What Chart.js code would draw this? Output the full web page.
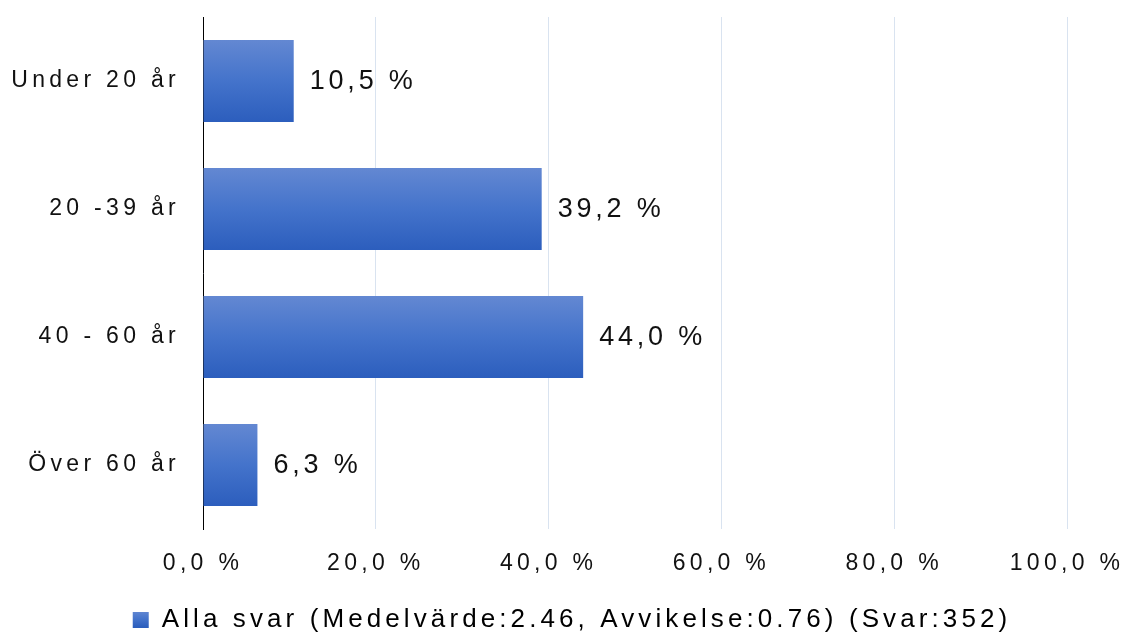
<!DOCTYPE html>
<html>
<head>
<meta charset="utf-8">
<script src="https://cdn.jsdelivr.net/npm/chart.js@4.4.1/dist/chart.umd.min.js"></script>
<style>
  body { margin: 0; background: #fff; }
  #wrap { width: 1126px; height: 634px; }
</style>
</head>
<body>
<div id="wrap"><canvas id="myChart"></canvas></div>
<script>
// data
var categories = ['Under 20 år', '20 -39 år', '40 - 60 år', 'Över 60 år'];
var values = [10.5, 39.2, 44.0, 6.3];
var xTicks = [0, 20, 40, 60, 80, 100];
var seriesLabel = 'Alla svar (Medelvärde:2.46, Avvikelse:0.76) (Svar:352)';

var FONT = "'Liberation Sans', Arial, sans-serif";
var TICK_SPACING = '4.3px';
var LABEL_SPACING = '3.8px';
var LEGEND_SPACING = '4.1px';

function pct(v) {
    return v.toFixed(1).replace('.', ',') + ' %';
}

function blueGradient(ctx, top, bottom) {
    var g = ctx.createLinearGradient(0, top, 0, bottom);
    g.addColorStop(0, '#6388d2');
    g.addColorStop(0.5, '#4473cb');
    g.addColorStop(1, '#2c5ebd');
    return g;
}

// run a drawing method with a given letter spacing (and optional shift)
function withSpacing(obj, name, sp, dx, dy) {
    if (!obj || obj['_sp_' + name]) return;
    var orig = obj[name];
    obj[name] = function () {
        var c = this.ctx;
        c.save();
        c.letterSpacing = sp;
        c.translate(dx || 0, dy || 0);
        var r = orig.apply(this, arguments);
        c.restore();
        return r;
    };
    obj['_sp_' + name] = true;
}

var spacing = {
    id: 'spacing',
    beforeLayout: function (chart) { chart.ctx.letterSpacing = LEGEND_SPACING; },
    afterLayout: function (chart) {
        withSpacing(chart.scales.x, 'drawLabels', TICK_SPACING);
        withSpacing(chart.scales.y, 'drawLabels', TICK_SPACING);
        // legend sits a bit right of centre and low in the reference
        withSpacing(chart.legend, 'draw', LEGEND_SPACING, 9, 9);
    }
};

// vertical gradient on every bar
var barGradient = {
    id: 'barGradient',
    beforeDatasetsDraw: function (chart) {
        chart.getDatasetMeta(0).data.forEach(function (bar) {
            var top = bar.y - bar.height / 2;
            bar.options.backgroundColor = blueGradient(chart.ctx, top, top + bar.height);
        });
    }
};

// value labels to the right of the bars
var valueLabels = {
    id: 'valueLabels',
    afterDatasetsDraw: function (chart) {
        var ctx = chart.ctx;
        ctx.save();
        ctx.font = '27px ' + FONT;
        ctx.letterSpacing = LABEL_SPACING;
        ctx.fillStyle = '#111';
        ctx.textAlign = 'left';
        ctx.textBaseline = 'middle';
        chart.getDatasetMeta(0).data.forEach(function (bar, i) {
            ctx.fillText(pct(values[i]), bar.x + 16, bar.y + 1);
        });
        ctx.restore();
    }
};

var ctx = document.getElementById('myChart').getContext('2d');
var chart = new Chart(ctx, {
    type: 'bar',
    data: {
        labels: categories,
        datasets: [{
            label: seriesLabel,
            data: values,
            backgroundColor: function () { return '#4473cb'; },
            barPercentage: 0.64,
            categoryPercentage: 1
        }]
    },
    plugins: [spacing, barGradient, valueLabels],
    options: {
        indexAxis: 'y',
        responsive: true,
        maintainAspectRatio: false,
        animation: false,
        layout: {
            padding: { left: 0, right: 0, top: 17, bottom: 0 }
        },
        plugins: {
            legend: {
                position: 'bottom',
                labels: {
                    font: { size: 26, family: FONT },
                    color: '#111',
                    boxWidth: 16,
                    boxHeight: 16,
                    padding: 0,
                    generateLabels: function (chart) {
                        var g = blueGradient(chart.ctx, 602, 618);
                        return [{
                            text: seriesLabel,
                            fillStyle: g,
                            strokeStyle: '#4473cb',
                            lineWidth: 0,
                            datasetIndex: 0
                        }];
                    }
                }
            },
            tooltip: { enabled: false }
        },
        scales: {
            x: {
                min: 0,
                max: 100,
                afterBuildTicks: function (scale) {
                    scale.ticks = xTicks.map(function (v) { return { value: v }; });
                },
                afterFit: function (scale) {
                    scale.height = 69;
                    scale.paddingLeft = 0;
                    scale.paddingRight = 59;
                },
                grid: {
                    color: '#d9e3f0',
                    lineWidth: 1,
                    drawTicks: false
                },
                border: { display: false },
                ticks: {
                    padding: 21,
                    color: '#111',
                    font: { size: 23, family: FONT },
                    maxRotation: 0,
                    callback: function (v) { return pct(v); }
                }
            },
            y: {
                afterFit: function (scale) {
                    scale.width = 203;
                    scale.paddingTop = 0;
                    scale.paddingBottom = 0;
                },
                grid: { display: false, drawTicks: false },
                border: { display: true, color: '#000', width: 1 },
                ticks: {
                    padding: 23,
                    color: '#111',
                    font: { size: 23, family: FONT }
                }
            }
        }
    }
});
</script>
</body>
</html>
